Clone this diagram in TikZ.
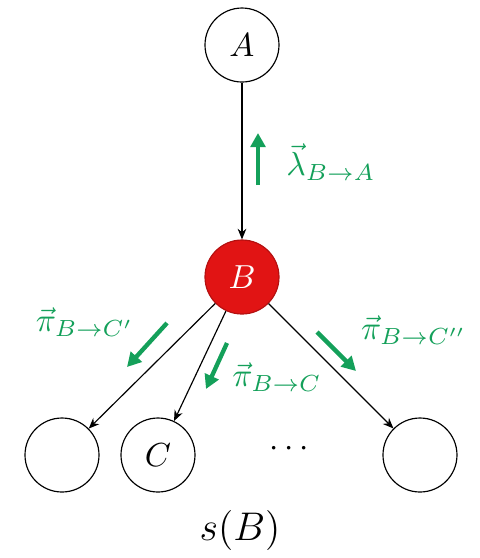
\documentclass[tikz,border=0pt]{standalone}
\usetikzlibrary{arrows.meta}
\definecolor{msggreen}{RGB}{20,160,90}
\definecolor{nodered}{RGB}{225,20,20}
\begin{document}
\begin{tikzpicture}[x=0.3pt,y=-0.3pt,
  vnode/.style={circle,draw=black,line width=0.35pt,minimum size=22.2pt,inner sep=0pt,font=\fontsize{10}{12}\selectfont},
  edge/.style={line width=0.35pt,-{Stealth[length=3.2pt,width=2.6pt]}},
  msg/.style={msggreen,line width=1.3pt,-{Triangle[length=4.2pt,width=4.4pt]}},
  msglabel/.style={text=msggreen,inner sep=0pt,font=\fontsize{10}{12}\selectfont}]
\useasboundingbox (0,0) rectangle (480,558);
\node[vnode] (A) at (242,45) {$A$};
\node[vnode,fill=nodered,draw=nodered!80!black,text=white] (B) at (242,277) {$B$};
\node[vnode] (L) at (62,455) {};
\node[vnode] (C) at (158,455) {$C$};
\node[vnode] (R) at (420,455) {};
\node[font=\fontsize{10}{12}\selectfont] (dots) at (289,449) {$\cdots$};
\node[font=\fontsize{12.5}{15}\selectfont] (s) at (240,530) {$s(B)$};
\draw[edge] (A) -- (B);
\draw[edge] (B) -- (L);
\draw[edge] (B) -- (C);
\draw[edge] (B) -- (R);
\coordinate (m1a) at (258,185); \coordinate (m1b) at (258,133);
\coordinate (m2a) at (167,323); \coordinate (m2b) at (127,367);
\coordinate (m3a) at (227,343); \coordinate (m3b) at (206,389);
\coordinate (m4a) at (317,332); \coordinate (m4b) at (356,371);
\draw[msg] (m1a) -- (m1b);
\draw[msg] (m2a) -- (m2b);
\draw[msg] (m3a) -- (m3b);
\draw[msg] (m4a) -- (m4b);
\node[msglabel] (l1) at (331,162) {$\vec{\lambda}_{B\to A}$};
\node[msglabel] (l2) at (85,322) {$\vec{\pi}_{B\to C'}$};
\node[msglabel] (l3) at (277,377) {$\vec{\pi}_{B\to C}$};
\node[msglabel] (l4) at (414,330) {$\vec{\pi}_{B\to C''}$};
\end{tikzpicture}
\end{document}
